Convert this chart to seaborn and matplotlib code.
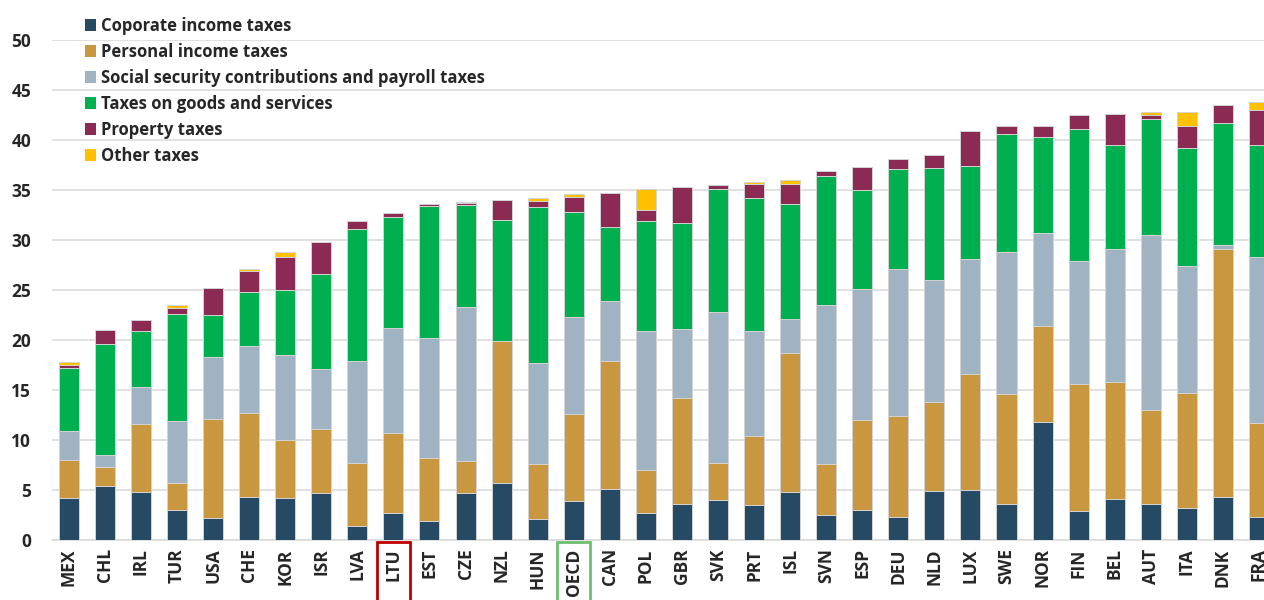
import numpy as np
import pandas as pd
import matplotlib
matplotlib.use("Agg")
import matplotlib.pyplot as plt
import matplotlib.patches as mpatches
import matplotlib.transforms as mtransforms
import seaborn as sns

countries = ["MEX", "CHL", "IRL", "TUR", "USA", "CHE", "KOR", "ISR", "LVA", "LTU",
             "EST", "CZE", "NZL", "HUN", "OECD", "CAN", "POL", "GBR", "SVK", "PRT",
             "ISL", "SVN", "ESP", "DEU", "NLD", "LUX", "SWE", "NOR", "FIN", "BEL",
             "AUT", "ITA", "DNK", "FRA"]

corporate = [4.2, 5.4, 4.8, 3.0, 2.2, 4.3, 4.2, 4.7, 1.4, 2.7,
             1.9, 4.7, 5.7, 2.1, 3.9, 5.1, 2.7, 3.6, 4.0, 3.5,
             4.8, 2.5, 3.0, 2.3, 4.9, 5.0, 3.6, 11.8, 2.9, 4.1,
             3.6, 3.2, 4.3, 2.3]
personal = [3.8, 1.9, 6.8, 2.7, 9.9, 8.4, 5.8, 6.4, 6.3, 8.0,
            6.3, 3.2, 14.2, 5.5, 8.7, 12.8, 4.3, 10.6, 3.7, 6.9,
            13.9, 5.1, 9.0, 10.1, 8.9, 11.6, 11.0, 9.6, 12.7, 11.7,
            9.4, 11.5, 24.8, 9.4]
social = [2.9, 1.2, 3.7, 6.2, 6.2, 6.7, 8.5, 6.0, 10.2, 10.5,
          12.0, 15.4, 0.0, 10.1, 9.7, 6.0, 13.9, 6.9, 15.1, 10.5,
          3.4, 15.9, 13.1, 14.7, 12.2, 11.5, 14.2, 9.3, 12.3, 13.3,
          17.5, 12.7, 0.4, 16.6]
goods = [6.3, 11.1, 5.6, 10.7, 4.2, 5.4, 6.5, 9.5, 13.2, 11.1,
         13.2, 10.2, 12.1, 15.6, 10.5, 7.4, 11.0, 10.6, 12.3, 13.3,
         11.5, 12.9, 9.9, 10.0, 11.2, 9.3, 11.8, 9.6, 13.2, 10.4,
         11.6, 11.8, 12.2, 11.2]
property_ = [0.3, 1.4, 1.1, 0.6, 2.7, 2.1, 3.3, 3.2, 0.8, 0.4,
             0.2, 0.2, 2.0, 0.6, 1.5, 3.4, 1.1, 3.6, 0.4, 1.4,
             2.0, 0.5, 2.3, 1.0, 1.3, 3.5, 0.8, 1.1, 1.4, 3.1,
             0.4, 2.2, 1.8, 3.5]
other = [0.3, 0.0, 0.0, 0.3, 0.0, 0.2, 0.5, 0.0, 0.0, 0.0,
         0.0, 0.1, 0.0, 0.3, 0.3, 0.0, 2.1, 0.0, 0.0, 0.2,
         0.4, 0.0, 0.0, 0.0, 0.0, 0.0, 0.0, 0.0, 0.0, 0.0,
         0.3, 1.4, 0.0, 0.8]

series_names = ["Coporate income taxes", "Personal income taxes",
                "Social security contributions and payroll taxes",
                "Taxes on goods and services", "Property taxes", "Other taxes"]
series_values = [corporate, personal, social, goods, property_, other]
colors = ["#264A63", "#C9973F", "#9FB3C2", "#00B050", "#8B2A52", "#FFC000"]

y_ticks = [0, 5, 10, 15, 20, 25, 30, 35, 40, 45, 50]

sns.set_theme(style="white")
plt.rcParams["font.family"] = ["Open Sans", "DejaVu Sans"]

fig = plt.figure(figsize=(12.64, 6.0), dpi=100)
ax = fig.add_axes([52 / 1264, 60 / 600, 1 - 52 / 1264, 500 / 600])

cum = np.zeros(len(countries))
cums = []
for vals in series_values:
    cum = cum + np.array(vals)
    cums.append(cum.copy())

# draw from the top layer down so each cumulative bar shows its segment
for name, c, color in reversed(list(zip(series_names, cums, colors))):
    d = pd.DataFrame({"country": countries, "value": c})
    sns.barplot(data=d, x="country", y="value", order=countries, color=color,
                saturation=1, width=0.555, edgecolor="#d4d4d4", linewidth=0.7,
                ax=ax, zorder=3)

ax.set_xlim(-0.466, 33.14)
ax.set_ylim(0, 50)
ax.set_yticks(y_ticks)
ax.yaxis.grid(True, color="#d9d9d9", linewidth=1.1, zorder=0)
ax.xaxis.grid(False)
ax.set_axisbelow(True)
for s in ["left", "right", "top"]:
    ax.spines[s].set_visible(False)
ax.spines["bottom"].set_color("#d9d9d9")
ax.spines["bottom"].set_linewidth(1.1)
ax.set_xlabel("")
ax.set_ylabel("")
ax.tick_params(axis="y", length=0, pad=15, labelsize=12.5, labelcolor="#262626")
ax.tick_params(axis="x", length=0, pad=6, labelsize=12.5, labelcolor="#262626")
for lab in ax.get_yticklabels():
    lab.set_fontweight("bold")
for lab in ax.get_xticklabels():
    lab.set_fontweight("bold")
    lab.set_rotation(90)

# highlight boxes around LTU and OECD labels
trans = mtransforms.blended_transform_factory(ax.transData, fig.transFigure)
for name, ecol in [("LTU", "#C00000"), ("OECD", "#6DBE6D")]:
    i = countries.index(name)
    rect = mpatches.Rectangle((i - 0.46, -0.05), 0.92, 0.05 + 1 - 542 / 600,
                              transform=trans, fill=False, edgecolor=ecol,
                              linewidth=2.0, clip_on=False)
    fig.add_artist(rect)

handles = [mpatches.Patch(facecolor=c, edgecolor="none", label=n)
           for n, c in zip(series_names, colors)]
leg = fig.legend(handles=handles, loc="upper left",
                 bbox_to_anchor=(78 / 1264, 1 - 10 / 600), frameon=False,
                 handlelength=0.7, handleheight=0.7, handletextpad=0.3,
                 labelspacing=0.48, borderaxespad=0,
                 prop={"weight": "bold", "size": 12})
for t in leg.get_texts():
    t.set_color("#262626")

fig.savefig("out.png", dpi=100)
